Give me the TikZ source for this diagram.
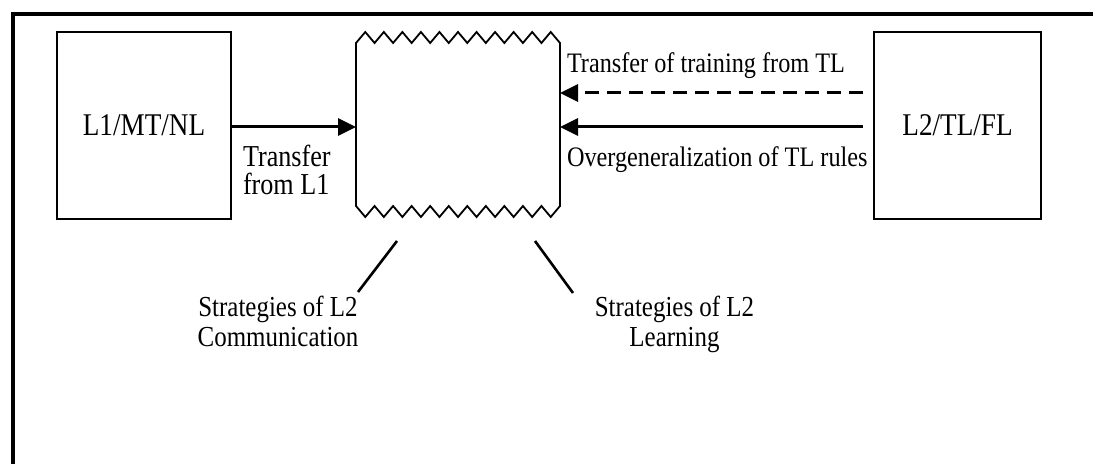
\documentclass[tikz,border=0pt]{standalone}
\usepackage{fontspec}
\setmainfont{Liberation Serif}[FakeStretch=0.86]
\usetikzlibrary{arrows.meta}
\begin{document}
\begin{tikzpicture}[x=0.5pt,y=-0.5pt,
  every node/.style={font=\fontsize{14.5pt}{15pt}\selectfont, inner sep=0pt, outer sep=0pt},
  langbox/.style={draw, line width=1pt, minimum width=#1, minimum height=93.5pt, font=\fontsize{15.8pt}{16pt}\selectfont},
  zig/.style={line width=0.9pt, line join=miter},
  arr/.style={line width=1.5pt, -{Triangle[length=9pt,width=8.5pt]}},
  dashedarr/.style={arr, dash pattern=on 7pt off 4pt},
  lab/.style={align=left, anchor=base west},
  stratlab/.style={align=center, anchor=base},
  pointer/.style={line width=1.3pt}]
\useasboundingbox (0,0) rectangle (1093,464);
% frame
\draw[line width=2pt] (13,464) -- (13,14) -- (1093,14);
% language boxes
\node[langbox=87pt] (l1) at (144,125.5) {L1/MT/NL};
\node[langbox=83.5pt] (l2) at (957.5,125.5) {L2/TL/FL};
% interlanguage box (zigzag top and bottom)
\node[minimum width=102pt, minimum height=81.5pt] (il) at (458,124.5) {};
\draw[zig] (356,43)
  \foreach \k in {1,...,22}{ -- ({356+\k*204/22},{ifthenelse(isodd(\k),32,43)}) }
  -- (560,206)
  \foreach \k in {1,...,22}{ -- ({560-\k*204/22},{ifthenelse(isodd(\k),217,206)}) }
  -- cycle;
% helper coordinates
\coordinate (yd) at (0,93);
\coordinate (ys) at (0,127);
\coordinate (s1) at (863,0);
% arrows
\draw[arr] (l1.east |- ys) -- (il.west |- ys);
\draw[dashedarr] (s1 |- yd) -- (il.east |- yd);
\draw[arr] (s1 |- ys) -- (il.east |- ys);
% labels (base anchor = baseline of the last line)
\node[lab, font=\fontsize{15.2pt}{14pt}\selectfont] (tl1) at (243,195) {Transfer\\from L1};
\node[lab, font=\fontsize{14.1pt}{15pt}\selectfont] (ttr) at (567,73) {Transfer of training from TL};
\node[lab, font=\fontsize{14.1pt}{15pt}\selectfont] (ovg) at (567,167) {Overgeneralization of TL rules};
\node[stratlab] (comm) at (278,347) {Strategies of L2\\Communication};
\node[stratlab] (lear) at (674.5,347) {Strategies of L2\\Learning};
% pointer lines
\coordinate (p1a) at (397,241);
\coordinate (p1b) at (358,292);
\coordinate (p2a) at (535,241);
\coordinate (p2b) at (573,293);
\draw[pointer] (p1a) -- (p1b);
\draw[pointer] (p2a) -- (p2b);
\end{tikzpicture}
\end{document}
